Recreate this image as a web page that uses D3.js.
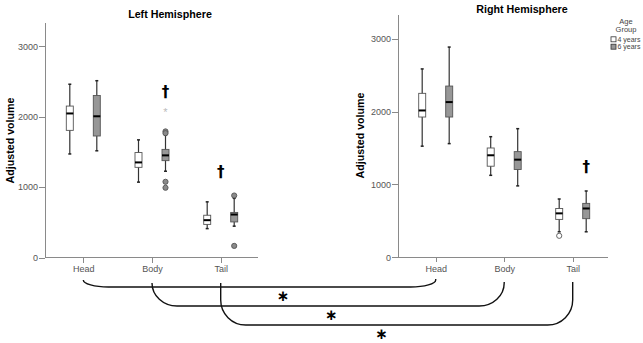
<!DOCTYPE html>
<html>
<head>
<meta charset="utf-8">
<script src="https://cdn.jsdelivr.net/npm/d3@7"></script>
<style>
  body { margin: 0; background: #fff; }
  svg { font-family: "Liberation Sans", Arial, sans-serif; }
  .axis path, .axis line { stroke: #8a8a8a; shape-rendering: crispEdges; }
  .axis text { fill: #555; font-size: 9px; }
</style>
</head>
<body>
<div id="chart"></div>
<script>
var categories = ["Head", "Body", "Tail"];
var groups = ["4 years", "6 years"];
var yTicks = [0, 1000, 2000, 3000];

// box stats, order: Head 4y, Head 6y, Body 4y, Body 6y, Tail 4y, Tail 6y
var leftLow    = [1470, 1515, 1070, 1225, 410, 445];
var leftQ1     = [1805, 1725, 1280, 1375, 470, 505];
var leftMedian = [2045, 2005, 1350, 1450, 530, 610];
var leftQ3     = [2150, 2300, 1490, 1535, 600, 640];
var leftHigh   = [2460, 2510, 1670, 1735, 790, 840];

var rightLow    = [1525, 1560, 1125, 980, 350, 350];
var rightQ1     = [1925, 1925, 1250, 1205, 520, 530];
var rightMedian = [2015, 2130, 1400, 1340, 603, 670];
var rightQ3     = [2250, 2350, 1500, 1450, 670, 740];
var rightHigh   = [2585, 2885, 1655, 1765, 800, 910];

// [category, group, value, kind]
var leftOutliers = [
  ["Body", "6 years", 1790, "o"], ["Body", "6 years", 1765, "o"],
  ["Body", "6 years", 1075, "o"], ["Body", "6 years", 990, "o"],
  ["Body", "6 years", 2100, "*"],
  ["Tail", "6 years", 880, "o"], ["Tail", "6 years", 165, "o"]
];
var rightOutliers = [["Tail", "4 years", 295, "o"]];

// daggers: [category, group or null, value]
var leftDaggers = [["Body", "6 years", 2355], ["Tail", null, 1220]];
var rightDaggers = [["Tail", "6 years", 1240]];

// brackets between left and right category
var bracketCats = ["Head", "Body", "Tail"];
var bracketStarPos = [0.567, 0.509, 0.457];

var W = 643, H = 343;
var fillColor = {"4 years": "#ffffff", "6 years": "#979797"};

var svg = d3.select("#chart").append("svg")
  .attr("width", W).attr("height", H);

var yDomain = [0, 3325];

var panels = [
  { title: "Left Hemisphere", axisX: 45, axisEnd: 258, top: 23.3, bottom: 257.5,
    xr: [83.3, 220.7], titleX: 170, titleY: 17.5, labX: 13.5, labY: 140.5,
    low: leftLow, q1: leftQ1, med: leftMedian, q3: leftQ3, high: leftHigh,
    outliers: leftOutliers, daggers: leftDaggers },
  { title: "Right Hemisphere", axisX: 398, axisEnd: 608, top: 15, bottom: 257.3,
    xr: [435.7, 572.7], titleX: 522, titleY: 13, labX: 364, labY: 135.5,
    low: rightLow, q1: rightQ1, med: rightMedian, q3: rightQ3, high: rightHigh,
    outliers: rightOutliers, daggers: rightDaggers }
];

var groupOffset = d3.scalePoint().domain(groups).range([-13.5, 13.5]);
var boxW = 7, capW = 3;

panels.forEach(function(p) {
  p.x = d3.scalePoint().domain(categories).range(p.xr);
  p.y = d3.scaleLinear().domain(yDomain).range([p.bottom, p.top]);

  var g = svg.append("g");

  // y axis
  var ya = g.append("g").attr("class", "axis")
    .attr("transform", "translate(" + p.axisX + ",0)")
    .call(d3.axisLeft(p.y).tickValues(yTicks).tickFormat(d3.format("d"))
      .tickSize(6).tickSizeOuter(0).tickPadding(1));
  ya.select(".domain").remove();
  g.append("line").attr("x1", p.axisX).attr("x2", p.axisX)
    .attr("y1", p.top).attr("y2", p.bottom)
    .attr("stroke", "#8a8a8a").attr("shape-rendering", "crispEdges");

  // x axis
  var xa = g.append("g").attr("class", "axis")
    .attr("transform", "translate(0," + p.bottom + ")")
    .call(d3.axisBottom(p.x).tickSize(5).tickPadding(3));
  xa.select(".domain").remove();
  g.append("line").attr("x1", p.axisX).attr("x2", p.axisEnd)
    .attr("y1", p.bottom).attr("y2", p.bottom)
    .attr("stroke", "#8a8a8a").attr("shape-rendering", "crispEdges");

  // titles
  g.append("text").attr("x", p.titleX).attr("y", p.titleY)
    .attr("text-anchor", "middle").attr("font-weight", "bold")
    .attr("font-size", 10.7).attr("fill", "#000").text(p.title);
  g.append("text")
    .attr("transform", "translate(" + p.labX + "," + p.labY + ") rotate(-90)")
    .attr("text-anchor", "middle").attr("font-weight", "bold")
    .attr("font-size", 10.7).attr("fill", "#000").text("Adjusted volume");

  // boxes
  var rows = [];
  categories.forEach(function(c, ci) {
    groups.forEach(function(gr, gi) {
      var i = ci * 2 + gi;
      rows.push({cat: c, group: gr, lo: p.low[i], q1: p.q1[i], med: p.med[i], q3: p.q3[i], hi: p.high[i]});
    });
  });
  var cx = function(d) { return p.x(d.cat) + groupOffset(d.group); };

  var b = g.selectAll(".box").data(rows).enter().append("g").attr("class", "box");
  b.append("line").attr("x1", cx).attr("x2", cx)
    .attr("y1", function(d) { return p.y(d.lo); })
    .attr("y2", function(d) { return p.y(d.hi); })
    .attr("stroke", "#333").attr("stroke-width", 1.2);
  ["lo", "hi"].forEach(function(k) {
    b.append("line")
      .attr("x1", function(d) { return cx(d) - capW / 2; })
      .attr("x2", function(d) { return cx(d) + capW / 2; })
      .attr("y1", function(d) { return p.y(d[k]); })
      .attr("y2", function(d) { return p.y(d[k]); })
      .attr("stroke", "#222").attr("stroke-width", 1.5);
  });
  b.append("rect")
    .attr("x", function(d) { return cx(d) - boxW / 2; })
    .attr("width", boxW)
    .attr("y", function(d) { return p.y(d.q3); })
    .attr("height", function(d) { return p.y(d.q1) - p.y(d.q3); })
    .attr("fill", function(d) { return fillColor[d.group]; })
    .attr("stroke", "#555").attr("stroke-width", 0.9);
  b.append("line")
    .attr("x1", function(d) { return cx(d) - boxW / 2; })
    .attr("x2", function(d) { return cx(d) + boxW / 2; })
    .attr("y1", function(d) { return p.y(d.med); })
    .attr("y2", function(d) { return p.y(d.med); })
    .attr("stroke", "#000").attr("stroke-width", 2);

  // outliers
  var ox = function(d) { return p.x(d[0]) + groupOffset(d[1]); };
  g.selectAll(".out").data(p.outliers.filter(function(d) { return d[3] === "o"; }))
    .enter().append("circle")
    .attr("cx", ox).attr("cy", function(d) { return p.y(d[2]); })
    .attr("r", 2.6)
    .attr("fill", function(d) { return d[1] === "6 years" ? "#8a8a8a" : "#fff"; })
    .attr("stroke", "#555").attr("stroke-width", 0.9);
  g.selectAll(".ext").data(p.outliers.filter(function(d) { return d[3] === "*"; }))
    .enter().append("text")
    .attr("x", ox).attr("y", function(d) { return p.y(d[2]) + 6.5; })
    .attr("text-anchor", "middle").attr("font-size", 11)
    .attr("fill", "#bbb").text("*");

  // daggers
  g.selectAll(".dag").data(p.daggers).enter().append("text")
    .attr("x", function(d) { return p.x(d[0]) + (d[1] ? groupOffset(d[1]) : 0); })
    .attr("y", function(d) { return p.y(d[2]) + 5; })
    .attr("text-anchor", "middle").attr("font-size", 15).attr("font-weight", "bold")
    .attr("font-family", "DejaVu Sans").attr("fill", "#000")
    .text("\u2020");
});

// legend
var lg = svg.append("g").attr("font-size", 7.5).attr("fill", "#444");
lg.append("text").attr("x", 626).attr("y", 24.3).attr("text-anchor", "middle").text("Age");
lg.append("text").attr("x", 626).attr("y", 31.8).attr("text-anchor", "middle").text("Group");
groups.forEach(function(gr, i) {
  lg.append("rect").attr("x", 611).attr("y", 36.8 + i * 7.4).attr("width", 5).attr("height", 5)
    .attr("fill", fillColor[gr]).attr("stroke", "#333").attr("stroke-width", 0.8);
  lg.append("text").attr("x", 617.5).attr("y", 42 + i * 7.4).attr("font-size", 7).text(gr);
});

// brackets
var bTop = [280, 283, 283], bBottom = [287, 306, 325];
var L = panels[0], R = panels[1];
bracketCats.forEach(function(c, i) {
  var x1 = L.x(c), x2 = R.x(c), t = bTop[i], bt = bBottom[i];
  var rx = 25, ry = Math.min(bt - t, 25);
  var d = "M" + x1 + "," + t + "L" + x1 + "," + (bt - ry) +
    "A" + rx + "," + ry + " 0 0 0 " + (x1 + rx) + "," + bt +
    "L" + (x2 - rx) + "," + bt +
    "A" + rx + "," + ry + " 0 0 0 " + x2 + "," + (bt - ry) +
    "L" + x2 + "," + (t - 1);
  svg.append("path").attr("d", d).attr("fill", "none")
    .attr("stroke", "#111").attr("stroke-width", 1.4);
  svg.append("text")
    .attr("x", d3.interpolateNumber(x1, x2)(bracketStarPos[i]))
    .attr("y", bt + 14)
    .attr("text-anchor", "middle").attr("font-size", 15).attr("font-weight", "bold")
    .attr("font-family", "DejaVu Sans").attr("fill", "#000")
    .text("\u2217");
});
</script>
</body>
</html>
